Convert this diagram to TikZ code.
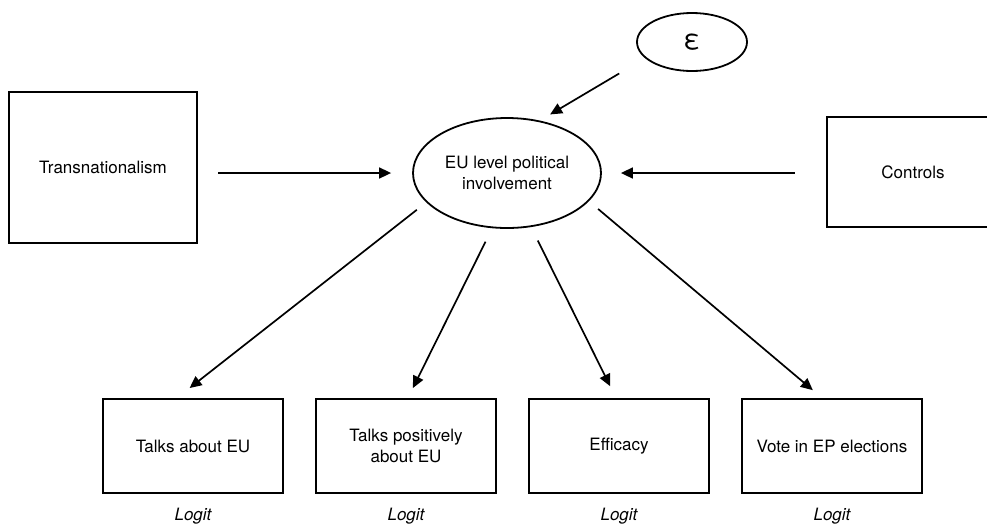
\documentclass[tikz,border=0pt]{standalone}
\usepackage{fontspec}
\setmainfont{TeX Gyre Heros}
\usetikzlibrary{shapes.geometric,arrows.meta}
\begin{document}
\begin{tikzpicture}[x=1pt, y=-1pt, font=\fontsize{17}{21}\selectfont,
	box/.style={draw, line width=2.2pt, minimum width=180pt, minimum height=94pt, inner sep=0pt, align=center},
	latent/.style={draw, ellipse, line width=1.8pt, inner sep=0pt, align=center},
	arr/.style={line width=1.7pt, -{Triangle[length=12pt,width=11pt]}},
	logit/.style={font=\fontsize{17}{21}\selectfont\itshape, anchor=base}]
	\useasboundingbox (0,0) rectangle (987,523);
	\clip (0,0) rectangle (987,523);
	%latent nodes
	\node[latent, minimum width=110pt, minimum height=58pt, font=\fontsize{28}{30}\selectfont] (eps) at (692,42) {ε};
	\node[latent, minimum width=188pt, minimum height=110pt] (eu) at (507,173) {EU level political\\involvement};
	%boxes
	\node[box, minimum width=188pt, minimum height=151pt] (trans) at (103,167.5) {Transnationalism};
	\node[box, minimum width=172pt, minimum height=110pt] (ctrl) at (913,172) {Controls};
	\node[box] (talks) at (193,446) {Talks about EU};
	\node[box] (pos) at (406,446) {Talks positively\\about EU};
	\node[box] (eff) at (619,446) {Efficacy};
	\node[box] (vote) at (832,446) {Vote in EP elections};
	%labels
	\node[logit] (l1) at (193,520) {Logit};
	\node[logit] (l2) at (406,520) {Logit};
	\node[logit] (l3) at (619,520) {Logit};
	\node[logit] (l4) at (832,520) {Logit};
	%arrows
	\draw[arr, shorten <=20pt, shorten >=21pt] (trans.east |- eu.west) -- (eu.west);
	\draw[arr, shorten <=31pt, shorten >=19pt] (ctrl.west |- eu.east) -- (eu.east);
	\draw[arr, shorten <=30pt, shorten >=12pt] (eps.199) -- (eu.58);
	\draw[arr, shorten <=12pt, shorten >=16pt] (eu.-160) -- ([xshift=-16pt]talks.north);
	\draw[arr, shorten <=15pt, shorten >=11pt] (eu.-105) -- ([xshift=2pt]pos.north);
	\draw[arr, shorten <=15pt, shorten >=13pt] (eu.-66) -- ([xshift=-3pt]eff.north);
	\draw[arr, shorten <=12pt, shorten >=12pt] (eu.-19) -- ([xshift=-10pt]vote.north);
\end{tikzpicture}
\end{document}
